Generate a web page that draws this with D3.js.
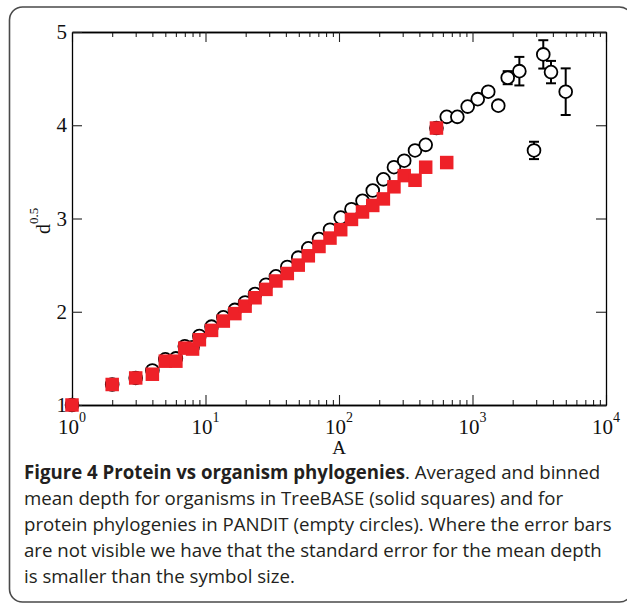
<!DOCTYPE html>
<html>
<head>
<meta charset="utf-8">
<script src="https://cdn.jsdelivr.net/npm/d3@7"></script>
<style>
  html, body { margin: 0; padding: 0; background: #fff; }
  svg { display: block; }
</style>
</head>
<body>
<svg id="chart" width="627" height="606"></svg>
<script>
// ---------------- data ----------------
// PANDIT protein phylogenies (empty circles)
const circleA = [1, 2, 3, 4, 5, 6, 7, 8, 9, 11.1, 13.6, 16.6, 19.8, 23.5, 28.4, 33.7, 41, 49.5, 58.9, 70.8, 85.6,
  103, 124, 150, 179, 215, 258, 308, 371, 446, 537, 641, 770, 920, 1094, 1312, 1560, 1835, 2244, 2889, 3390, 3873, 4990];
const circleD = [1.0, 1.22, 1.29, 1.37, 1.49, 1.50, 1.63, 1.62, 1.74, 1.84, 1.94, 2.02, 2.10, 2.19, 2.29, 2.38, 2.48, 2.58, 2.68, 2.78, 2.88,
  3.01, 3.10, 3.19, 3.30, 3.42, 3.55, 3.62, 3.73, 3.79, 3.97, 4.09, 4.09, 4.20, 4.28, 4.36, 4.21, 4.51, 4.58, 3.73, 4.76, 4.57, 4.36];
const circleErr = [0, 0, 0, 0, 0, 0, 0, 0, 0, 0, 0, 0, 0, 0, 0, 0, 0, 0, 0, 0, 0,
  0, 0, 0, 0, 0, 0, 0, 0, 0, 0, 0, 0, 0, 0, 0, 0, 0.07, 0.153, 0.093, 0.152, 0.12, 0.25];

// TreeBASE organisms (solid squares)
const squareA = [1, 2, 3, 4, 5, 6, 7, 8, 9, 11.1, 13.6, 16.6, 19.8, 23.5, 28.4, 33.7, 41, 49.5, 58.9, 70.8, 85.6,
  103, 124, 150, 179, 215, 258, 308, 371, 446, 537, 641];
const squareD = [1.0, 1.22, 1.29, 1.33, 1.47, 1.47, 1.61, 1.60, 1.70, 1.80, 1.90, 1.98, 2.06, 2.15, 2.24, 2.33, 2.41, 2.50, 2.60, 2.70, 2.79,
  2.88, 2.99, 3.07, 3.14, 3.21, 3.34, 3.46, 3.41, 3.55, 3.97, 3.60];

// axes
const xTickValues = [1, 10, 100, 1000, 10000];
const xTickExponents = ["0", "1", "2", "3", "4"];
const yTickValues = [1, 2, 3, 4, 5];
const xLabel = "A";
const yLabelBase = "d";
const yLabelSup = "0.5";

// caption
const captionBold = "Figure 4 Protein vs organism phylogenies";
const captionLines = [
  ". Averaged and binned",
  "mean depth for organisms in TreeBASE (solid squares) and for",
  "protein phylogenies in PANDIT (empty circles). Where the error bars",
  "are not visible we have that the standard error for the mean depth",
  "is smaller than the symbol size."
];

// ---------------- drawing ----------------
const svg = d3.select("#chart");
const L = 72, R = 606, T = 32, B = 405;

// outer rounded frame
svg.append("rect")
  .attr("x", 9.5).attr("y", 7).attr("width", 623).attr("height", 595)
  .attr("rx", 13).attr("ry", 13)
  .attr("fill", "none").attr("stroke", "#4a4a4a").attr("stroke-width", 1.6);

const x = d3.scaleLog().domain([1, 1e4]).range([L, R]);
const y = d3.scaleLinear().domain([1, 5]).range([B, T]);

const minorX = [];
for (let e = 0; e < 4; e++) for (let k = 2; k <= 9; k++) minorX.push(k * Math.pow(10, e));

function styleAxis(g) {
  g.selectAll("path.domain").attr("stroke", "#000").attr("stroke-width", 1.3);
  g.selectAll(".tick line").attr("stroke", "#222").attr("stroke-width", 1.1);
  g.selectAll(".tick text").remove();
}

// bottom
svg.append("g").attr("transform", `translate(0,${B})`)
  .call(d3.axisBottom(x).tickValues(minorX).tickSize(-5).tickSizeOuter(0).tickFormat(""))
  .call(styleAxis);
svg.append("g").attr("transform", `translate(0,${B})`)
  .call(d3.axisBottom(x).tickValues(xTickValues).tickSize(-10).tickSizeOuter(0).tickFormat(""))
  .call(styleAxis);
// top
svg.append("g").attr("transform", `translate(0,${T})`)
  .call(d3.axisTop(x).tickValues(minorX).tickSize(-5).tickSizeOuter(0).tickFormat(""))
  .call(styleAxis);
svg.append("g").attr("transform", `translate(0,${T})`)
  .call(d3.axisTop(x).tickValues(xTickValues).tickSize(-10).tickSizeOuter(0).tickFormat(""))
  .call(styleAxis);
// left
svg.append("g").attr("transform", `translate(${L},0)`)
  .call(d3.axisLeft(y).tickValues(yTickValues).tickSize(-10).tickSizeOuter(0).tickFormat(""))
  .call(styleAxis);
// right
svg.append("g").attr("transform", `translate(${R},0)`)
  .call(d3.axisRight(y).tickValues(yTickValues).tickSize(-10).tickSizeOuter(0).tickFormat(""))
  .call(styleAxis);

const serif = "'Liberation Serif', 'Times New Roman', serif";

// y tick labels
svg.append("g").selectAll("text").data(yTickValues).join("text")
  .attr("x", L - 5).attr("y", d => y(d)).attr("dy", "0.34em")
  .attr("text-anchor", "end")
  .attr("font-family", serif).attr("font-size", 21).attr("fill", "#111")
  .text(d => d);

// x tick labels (10^n)
const xl = svg.append("g").selectAll("text").data(xTickValues).join("text")
  .attr("x", d => x(d)).attr("y", 434)
  .attr("text-anchor", "middle")
  .attr("font-family", serif).attr("fill", "#111");
xl.append("tspan").attr("font-size", 21).text("10");
xl.append("tspan").attr("font-size", 14).attr("dy", -12).text((d, i) => xTickExponents[i]);

// axis titles
svg.append("text").attr("x", (L + R) / 2).attr("y", 454)
  .attr("text-anchor", "middle").attr("font-family", serif).attr("font-size", 19).attr("fill", "#111")
  .text(xLabel);
const yt = svg.append("text").attr("transform", "rotate(-90)")
  .attr("x", -234).attr("y", 50)
  .attr("font-family", serif).attr("fill", "#111");
yt.append("tspan").attr("font-size", 20).text(yLabelBase);
yt.append("tspan").attr("font-size", 13).attr("dy", -12).text(yLabelSup);

// plot data
const circles = circleA.map((a, i) => ({ a, d: circleD[i], e: circleErr[i] }));
const squares = squareA.map((a, i) => ({ a, d: squareD[i] }));

const eb = svg.append("g").attr("stroke", "#000").attr("stroke-width", 2).attr("fill", "none");
const withErr = circles.filter(c => c.e > 0);
eb.selectAll("line.v").data(withErr).join("line").attr("class", "v")
  .attr("x1", c => x(c.a)).attr("x2", c => x(c.a))
  .attr("y1", c => y(c.d + c.e)).attr("y2", c => y(c.d - c.e));
eb.selectAll("line.t").data(withErr).join("line").attr("class", "t")
  .attr("x1", c => x(c.a) - 5).attr("x2", c => x(c.a) + 5)
  .attr("y1", c => y(c.d + c.e)).attr("y2", c => y(c.d + c.e));
eb.selectAll("line.b").data(withErr).join("line").attr("class", "b")
  .attr("x1", c => x(c.a) - 5).attr("x2", c => x(c.a) + 5)
  .attr("y1", c => y(c.d - c.e)).attr("y2", c => y(c.d - c.e));

svg.append("g").selectAll("circle").data(circles).join("circle")
  .attr("cx", c => x(c.a)).attr("cy", c => y(c.d)).attr("r", 6.4)
  .attr("fill", "#fff").attr("stroke", "#000").attr("stroke-width", 1.8);

const S = 13.5;
svg.append("g").selectAll("rect").data(squares).join("rect")
  .attr("x", s => x(s.a) - S / 2).attr("y", s => y(s.d) - S / 2)
  .attr("width", S).attr("height", S)
  .attr("fill", "#ee2128");

// caption
const sans = "'Open Sans', 'Noto Sans', sans-serif";
const capX = 24;
const capG = svg.append("g").attr("font-family", sans).attr("fill", "#231f20");
const baselines = [478.5, 504.5, 530.5, 556.5, 582.5];
const first = capG.append("text").attr("x", capX).attr("y", baselines[0]);
first.append("tspan").attr("font-weight", "bold").text(captionBold);
first.append("tspan").text(captionLines[0]);
const others = captionLines.slice(1).map((t, i) =>
  capG.append("text").attr("x", capX).attr("y", baselines[i + 1]).text(t));

// fit font size so that the widest line spans the measured width
capG.attr("font-size", 16);
const ref = others[1].node().getComputedTextLength();
const fs = 16 * (612 - capX) / ref;
capG.attr("font-size", fs);
</script>
</body>
</html>
